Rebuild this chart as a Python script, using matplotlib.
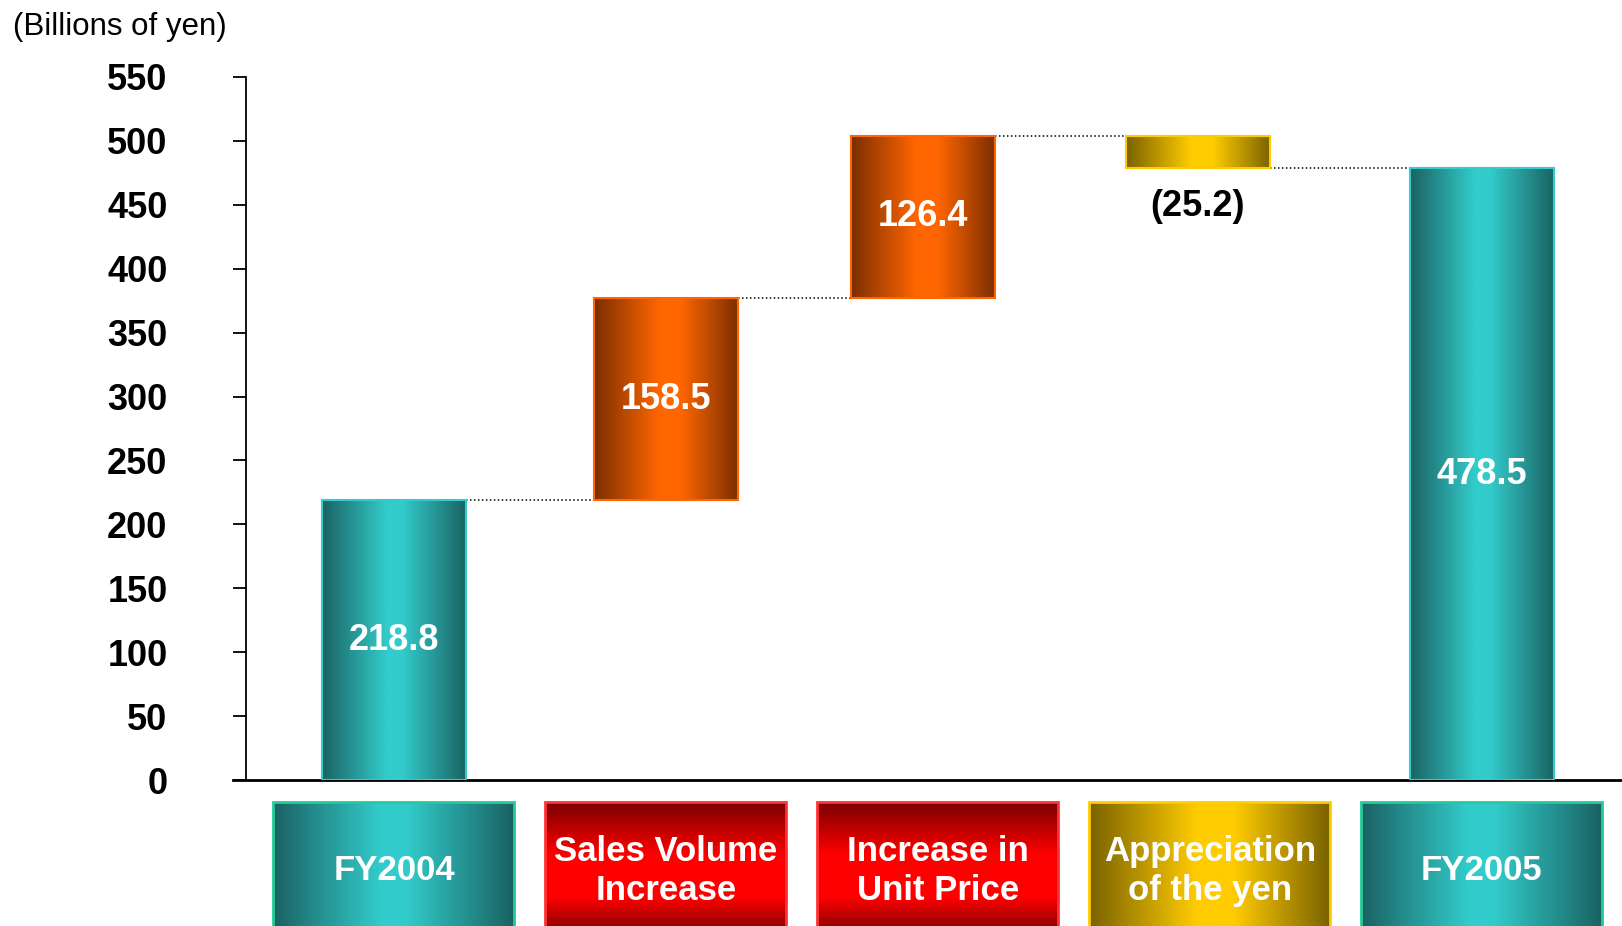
import numpy as np
import matplotlib.pyplot as plt
from matplotlib.colors import LinearSegmentedColormap
from matplotlib.patches import Rectangle

plt.rcParams['font.family'] = ['Liberation Sans', 'DejaVu Sans']

# ---- data ----
categories = ['FY2004', 'Sales Volume\nIncrease', 'Increase in\nUnit Price',
              'Appreciation\nof the yen', 'FY2005']
changes = [218.8, 158.5, 126.4, -25.2, 478.5]
value_labels = ['218.8', '158.5', '126.4', '(25.2)', '478.5']
kinds = ['total', 'up', 'up', 'down', 'total']
yticks = list(range(0, 551, 50))

# ---- colours ----
bar_cmaps = {
    'total': LinearSegmentedColormap.from_list('teal', [(0, '#1a6262'), (0.45, '#33cccc'), (0.55, '#33cccc'), (1, '#1a6262')]),
    'up': LinearSegmentedColormap.from_list('orange', [(0, '#7a2e00'), (0.45, '#ff6600'), (0.6, '#ff6600'), (1, '#7a2e00')]),
    'down': LinearSegmentedColormap.from_list('gold', [(0, '#7a6200'), (0.45, '#ffcc00'), (0.6, '#ffcc00'), (1, '#7a6200')]),
}
bar_edges = {'total': '#33cccc', 'up': '#ff6600', 'down': '#ffcc00'}
box_cmaps = {
    'total': bar_cmaps['total'],
    'up': LinearSegmentedColormap.from_list('red', [(0, '#7a0000'), (0.4, '#ff0000'), (0.72, '#ff0000'), (1, '#7a0000')]),
    'down': bar_cmaps['down'],
}
box_edges = {'total': '#22cc99', 'up': '#ff3333', 'down': '#ffcc00'}


def grad_rect(ax, x0, x1, y0, y1, cmap, edge, vertical=False, lw=1.5):
    g = np.linspace(0, 1, 256)
    arr = g.reshape(-1, 1) if vertical else g.reshape(1, -1)
    ax.imshow(arr, cmap=cmap, extent=(x0, x1, y0, y1), aspect='auto',
              origin='upper', interpolation='bicubic', zorder=2)
    ax.add_patch(Rectangle((x0, y0), x1 - x0, y1 - y0, fill=False,
                           edgecolor=edge, lw=lw, zorder=3))


fig = plt.figure(figsize=(16.22, 9.26), dpi=100)
ax = fig.add_axes([246 / 1622, 146 / 926, 1376 / 1622, 703 / 926])

x = np.arange(len(categories))
# bars in the original slide sit slightly off the label-box centres
bar_x = x + np.array([0, 0, -0.055, -0.045, 0])
w = 0.53

# bottoms / tops of the waterfall
bottoms, tops = [], []
running = 0.0
for c, k in zip(changes, kinds):
    if k == 'total':
        b, t = 0.0, c
        running = c
    else:
        b, t = min(running, running + c), max(running, running + c)
        running += c
    bottoms.append(b)
    tops.append(t)

for i, k in enumerate(kinds):
    grad_rect(ax, bar_x[i] - w / 2, bar_x[i] + w / 2, bottoms[i], tops[i], bar_cmaps[k], bar_edges[k])
    if k == 'down':
        ax.text(bar_x[i], bottoms[i] - 30, value_labels[i], ha='center', va='center',
                fontsize=26, fontweight='bold', color='black', zorder=4)
    else:
        ax.text(bar_x[i], (bottoms[i] + tops[i]) / 2, value_labels[i], ha='center', va='center',
                fontsize=26, fontweight='bold', color='white', zorder=4)

# dotted connectors
for i in range(len(kinds) - 1):
    level = tops[i] if kinds[i] != 'down' else bottoms[i]
    ax.plot([bar_x[i] + w / 2, bar_x[i + 1] - w / 2], [level, level], color='black',
            lw=1.1, ls=(0, (1, 1.6)), zorder=1)

ax.set_xlim(-0.544, 4.515)
ax.set_ylim(0, 550)
ax.set_yticks(yticks)
ax.set_xticks([])
ax.tick_params(axis='y', direction='out', length=9.5, width=1.3, pad=47, labelsize=26)
for lab in ax.get_yticklabels():
    lab.set_fontweight('bold')
ax.spines['top'].set_visible(False)
ax.spines['right'].set_visible(False)
ax.spines['left'].set_linewidth(1.3)
ax.spines['bottom'].set_linewidth(2)
ax.spines['bottom'].set_bounds(-0.59, 4.515)
ax.spines['bottom'].set_clip_on(False)

fig.text(13 / 1622, 1 - 27 / 926, '(Billions of yen)', fontsize=22.5, ha='left', va='center')

# category label boxes below the axis
ax2 = fig.add_axes([246 / 1622, 0, 1376 / 1622, 146 / 926])
bw = 0.886
for i, k in enumerate(kinds):
    grad_rect(ax2, x[i] - bw / 2, x[i] + bw / 2, -8, 124, box_cmaps[k], box_edges[k],
              vertical=(k == 'up'), lw=2)
    ax2.text(x[i], 55, categories[i], ha='center', va='center', fontsize=25,
             fontweight='bold', color='white', linespacing=1.22, zorder=4)
ax2.set_xlim(-0.544, 4.515)
ax2.set_ylim(0, 146)
ax2.axis('off')

fig.savefig('out.png', dpi=100)
